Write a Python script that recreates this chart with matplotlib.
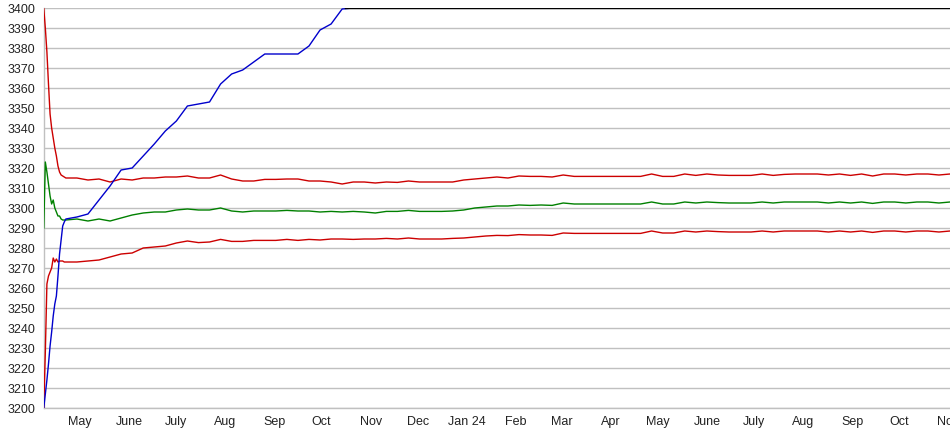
#!/usr/bin/env python
# -*- coding: utf-8 -*-

"""
Rating history chart: the rating itself (blue, capped at 3400) and the
mean with its upper/lower band (green and red).
"""

#...for the dates.
import pandas as pd

# Import the plotting libraries.
import matplotlib
matplotlib.use("Agg")
import matplotlib.pyplot as plt
import matplotlib.dates as mdates

## Daily samples for the first two weeks (the steep start).
early_dates = pd.date_range("2023-04-08", periods=14, freq="D")

## Weekly samples afterwards.
weekly_dates = pd.date_range("2023-04-22", periods=81, freq="7D")

## The rating (blue) - daily, then weekly until it hits the cap.
blue_early = [3200, 3207, 3214, 3222, 3231, 3238, 3246, 3252, 3256, 3266, 3277, 3284, 3291, 3293]
blue_weekly = [3294.5, 3295.5, 3297, 3304, 3311, 3319, 3320, 3326, 3332, 3338.5,
               3343.5, 3351, 3352, 3353, 3362, 3367, 3369, 3373, 3377, 3377,
               3377, 3377, 3381, 3389, 3392, 3399.5, 3400]

## The capped part (black).
black_dates = ["2023-10-16", "2024-11-02"]
black_values = [3400, 3400]

## Upper band (red).
upper_early = [3400, 3390, 3378, 3362, 3347, 3340, 3335, 3330, 3326, 3321, 3318, 3316.5, 3316, 3315.5]
upper_weekly = [3315, 3315, 3314, 3314.5, 3313, 3314.5, 3314, 3315, 3315, 3315.5,
                3315.5, 3316, 3315, 3315, 3316.5, 3314.5, 3313.5, 3313.5, 3314.3, 3314.3,
                3314.5, 3314.5, 3313.5, 3313.5, 3313, 3312, 3313, 3313, 3312.5, 3313,
                3312.8, 3313.5, 3313, 3313, 3313, 3313, 3314, 3314.5, 3315, 3315.5,
                3315, 3316, 3315.8, 3315.8, 3315.5, 3316.5, 3315.8, 3315.8, 3315.8, 3315.8,
                3315.8, 3315.8, 3315.8, 3317, 3315.8, 3315.8, 3317, 3316.3, 3317, 3316.5,
                3316.3, 3316.3, 3316.3, 3317, 3316.3, 3316.8, 3317, 3317, 3317, 3316.5,
                3317, 3316.3, 3317, 3316, 3317, 3317, 3316.5, 3317, 3317, 3316.5, 3317]

## Mean (green).
green_early = [3290, 3323, 3318, 3312, 3306, 3302, 3304, 3300, 3298, 3296, 3296, 3294.5, 3294, 3294]
green_weekly = [3294, 3294.5, 3293.5, 3294.5, 3293.5, 3295, 3296.5, 3297.5, 3298, 3298,
                3299, 3299.5, 3299, 3299, 3300, 3298.5, 3298, 3298.5, 3298.5, 3298.5,
                3298.8, 3298.5, 3298.5, 3298, 3298.3, 3298, 3298.3, 3298, 3297.5, 3298.3,
                3298.3, 3298.8, 3298.3, 3298.3, 3298.3, 3298.5, 3299, 3300, 3300.5, 3301,
                3301, 3301.5, 3301.3, 3301.5, 3301.3, 3302.5, 3302, 3302, 3302, 3302,
                3302, 3302, 3302, 3303, 3302, 3302, 3303, 3302.5, 3303, 3302.7,
                3302.5, 3302.5, 3302.5, 3303, 3302.5, 3303, 3303, 3303, 3303, 3302.5,
                3303, 3302.5, 3303, 3302.3, 3303, 3303, 3302.5, 3303, 3303, 3302.5, 3303]

## Lower band (red).
lower_early = [3200, 3228, 3262, 3266, 3268, 3270, 3275, 3273, 3274.5, 3273, 3273.5, 3273.5, 3273.5, 3273]
lower_weekly = [3273, 3273, 3273.5, 3274, 3275.5, 3277, 3277.5, 3280, 3280.5, 3281,
                3282.5, 3283.5, 3282.7, 3283, 3284.3, 3283.3, 3283.3, 3283.8, 3283.8, 3283.8,
                3284.3, 3283.8, 3284.3, 3284, 3284.5, 3284.5, 3284.3, 3284.5, 3284.5, 3284.8,
                3284.5, 3285, 3284.5, 3284.5, 3284.5, 3284.8, 3285, 3285.5, 3286, 3286.3,
                3286.2, 3286.7, 3286.5, 3286.5, 3286.3, 3287.5, 3287.3, 3287.3, 3287.3, 3287.3,
                3287.3, 3287.3, 3287.3, 3288.5, 3287.5, 3287.5, 3288.5, 3288, 3288.5, 3288.2,
                3288, 3288, 3288, 3288.5, 3288, 3288.5, 3288.5, 3288.5, 3288.5, 3288,
                3288.5, 3288, 3288.5, 3287.8, 3288.5, 3288.5, 3288, 3288.5, 3288.5, 3288, 3288.5]

## Month tick labels.
tick_dates = pd.date_range("2023-05-01", "2024-11-01", freq="MS")
tick_labels = ["May", "June", "July", "Aug", "Sep", "Oct", "Nov", "Dec", "Jan 24",
               "Feb", "Mar", "Apr", "May", "June", "July", "Aug", "Sep", "Oct", "Nov"]

y_ticks = list(range(3200, 3401, 10))

plt.rcParams['font.family'] = ['Liberation Sans', 'DejaVu Sans']

fig = plt.figure(figsize=(9.5, 4.35), dpi=100, facecolor='w')
ax = fig.add_axes([43.75 / 950., 26. / 435., 1. - 43.75 / 950., 400. / 435.])

grid_col = '#c0c0c0'

# The full series = daily start + weekly rest.
all_dates = list(early_dates) + list(weekly_dates)
blue_dates = list(early_dates) + list(weekly_dates[:len(blue_weekly)])

ax.plot(all_dates, upper_early + upper_weekly, color='#cc0000', lw=1.0, zorder=3)
ax.plot(all_dates, green_early + green_weekly, color='#008000', lw=1.0, zorder=3)
ax.plot(all_dates, lower_early + lower_weekly, color='#cc0000', lw=1.0, zorder=3)
ax.plot(blue_dates, blue_early + blue_weekly, color='#0000cc', lw=1.0, zorder=4)
ax.plot(pd.to_datetime(black_dates), black_values, color='black', lw=1.0, zorder=5)

ax.set_ylim(3200, 3400)
ax.set_xlim(pd.Timestamp("2023-04-08"), pd.Timestamp("2024-11-02"))

ax.set_yticks(y_ticks)
ax.set_xticks(tick_dates)
ax.set_xticklabels(tick_labels)

ax.grid(axis='y', color=grid_col, lw=1.0, zorder=1)
ax.set_axisbelow(True)

for side in ['top', 'right']:
    ax.spines[side].set_visible(False)
for side in ['left', 'bottom']:
    ax.spines[side].set_color(grid_col)
    ax.spines[side].set_linewidth(1.0)

ax.tick_params(axis='both', length=0, labelsize=9, colors='#222222')
ax.tick_params(axis='y', pad=6)
ax.tick_params(axis='x', pad=5)

fig.savefig("out.png", dpi=100)
